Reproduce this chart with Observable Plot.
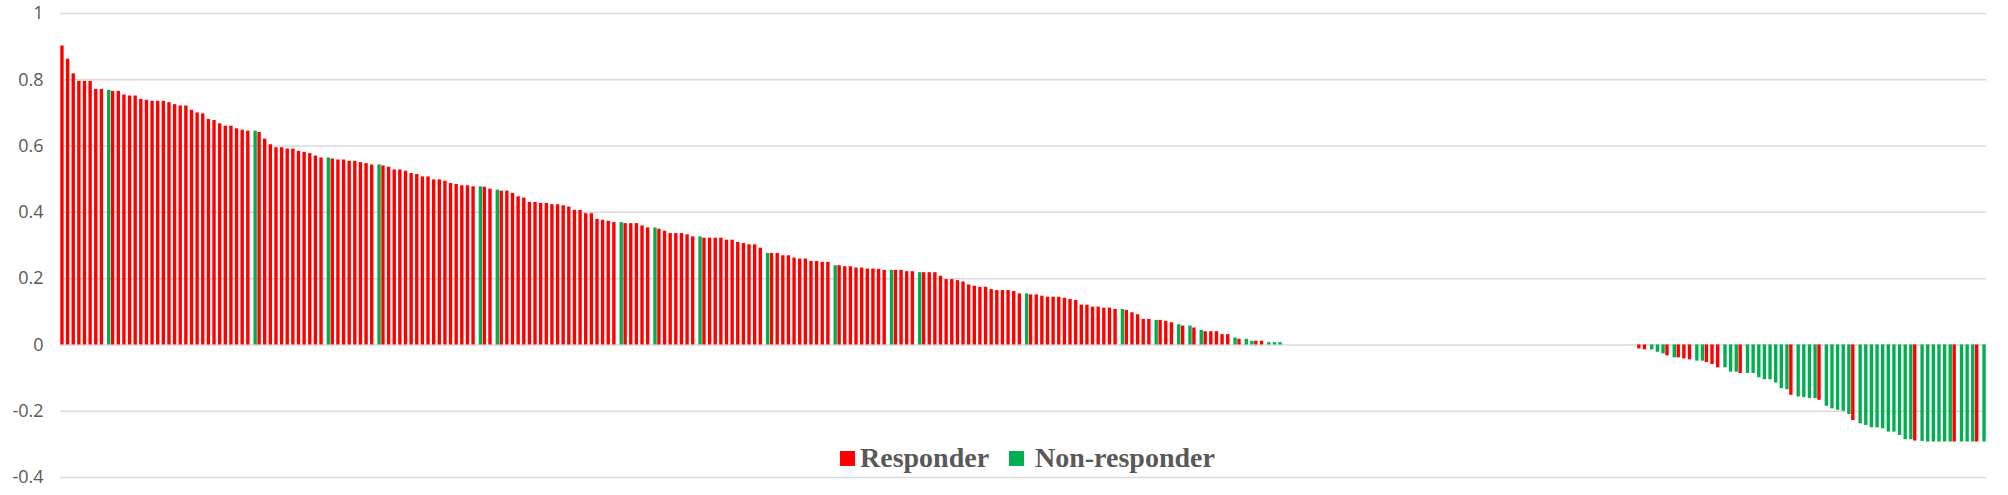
<!DOCTYPE html>
<html>
<head>
<meta charset="utf-8">
<script src="https://cdn.jsdelivr.net/npm/d3@7"></script>
<script src="https://cdn.jsdelivr.net/npm/@observablehq/plot@0.6"></script>
<style>
  html, body { margin: 0; padding: 0; background: #ffffff; }
  #wrap { position: relative; width: 2008px; height: 495px; overflow: hidden; }
  #legend { position: absolute; left: 840px; top: 443px; height: 30px; width: 420px;
            font-family: "Liberation Serif", "Times New Roman", serif; font-weight: bold;
            font-size: 28px; color: #595959; }
  #legend .sw { position: absolute; top: 8px; width: 15px; height: 15px; }
  #legend .lb { position: absolute; top: 0; line-height: 30px; white-space: nowrap; }
</style>
</head>
<body>
<div id="wrap"></div>
<script>
// ---- data ----
// patients with a positive value, sorted descending (R = responder, G = non-responder)
const positiveValues = [
  0.902,0.862,0.818,0.795,0.795,0.795,0.771,0.771,0.768,0.765,
  0.765,0.754,0.751,0.751,0.741,0.738,0.735,0.735,0.735,0.731,
  0.725,0.721,0.721,0.708,0.700,0.697,0.680,0.677,0.667,0.660,
  0.660,0.652,0.648,0.645,0.645,0.641,0.621,0.604,0.595,0.595,
  0.591,0.591,0.584,0.581,0.577,0.570,0.564,0.564,0.561,0.558,
  0.558,0.554,0.554,0.550,0.547,0.543,0.543,0.540,0.536,0.528,
  0.528,0.524,0.517,0.514,0.507,0.507,0.498,0.498,0.494,0.487,
  0.484,0.480,0.480,0.477,0.477,0.476,0.470,0.467,0.464,0.464,
  0.457,0.447,0.443,0.430,0.430,0.427,0.427,0.423,0.423,0.420,
  0.416,0.406,0.406,0.396,0.396,0.379,0.376,0.373,0.369,0.369,
  0.366,0.366,0.366,0.359,0.353,0.353,0.349,0.343,0.336,0.336,
  0.336,0.332,0.326,0.326,0.322,0.322,0.322,0.322,0.316,0.316,
  0.309,0.306,0.302,0.302,0.292,0.276,0.276,0.276,0.269,0.269,
  0.262,0.259,0.259,0.252,0.252,0.249,0.249,0.239,0.239,0.236,
  0.236,0.232,0.232,0.229,0.229,0.228,0.225,0.225,0.225,0.225,
  0.221,0.221,0.218,0.218,0.218,0.218,0.207,0.197,0.197,0.194,
  0.190,0.181,0.177,0.174,0.174,0.167,0.164,0.164,0.164,0.161,
  0.154,0.154,0.151,0.151,0.147,0.144,0.144,0.144,0.141,0.137,
  0.134,0.120,0.120,0.114,0.114,0.111,0.111,0.107,0.107,0.104,
  0.097,0.091,0.077,0.077,0.074,0.074,0.071,0.067,0.061,0.057,
  0.057,0.051,0.044,0.040,0.040,0.040,0.031,0.031,0.021,0.017,
  0.017,0.011,0.011,0.011,0.007,0.007,0.007
];
const positiveGroups = [
  "RRRRRRRRGR","RRRRRRRRRR","RRRRRRRRRR","RRRRGRRRRR","RRRRRRRGRR",
  "RRRRRRGRRR","RRRRRRRRRR","RRRRGRRGRR","RRRRRRRRRR","RRRRRRRRRG",
  "RRRRRGRRRR","RRRGRRRRRR","RRRRRGRRRR","RRRRRRRGRR","RRRRRRRGRR",
  "RRGRRRRRRR","RRRRRRRRRR","RGRRRRRRRR","RRRRRRRRGR","RRRRGRRRGR",
  "GRGRRRRRGR","GGRRGGG"
];
// patients with no change
const zeroValues = [
  0,0,0,0,0,0,0,0,0,0, 0,0,0,0,0,0,0,0,0,0, 0,0,0,0,0,0,0,0,0,0,
  0,0,0,0,0,0,0,0,0,0, 0,0,0,0,0,0,0,0,0,0, 0,0,0,0,0,0,0,0,0,0,
  0,0,0
];
// patients with a negative value
const negativeValues = [
  -0.012,-0.015,-0.015,-0.022,-0.027,-0.033,-0.039,-0.039,-0.042,-0.045,
  -0.049,-0.049,-0.053,-0.059,-0.069,-0.069,-0.082,-0.082,-0.086,-0.086,
  -0.086,-0.099,-0.105,-0.105,-0.115,-0.132,-0.135,-0.152,-0.157,-0.159,
  -0.162,-0.162,-0.167,-0.185,-0.193,-0.197,-0.200,-0.210,-0.228,-0.238,
  -0.243,-0.250,-0.250,-0.253,-0.263,-0.263,-0.273,-0.286,-0.286,-0.290,
  -0.291,-0.293,-0.293,-0.293,-0.293,-0.293,-0.293,-0.293,-0.293,-0.293,-0.293,-0.293
];
const negativeGroups = [
  "RRGGGRGRRR","GGRRRGGGRG","GGGGGGGRGG","GGRGGGGGRG","GGGGGGGGGR","GGGGGGRGGGRG"
];
const seriesNames = {R: "Responder", G: "Non-responder"};
const seriesColors = {R: "#FF0000", G: "#00B050"};
const yTicks = [-0.4, -0.2, 0, 0.2, 0.4, 0.6, 0.8, 1];
const yTickLabels = ["-0.4", "-0.2", "0", "0.2", "0.4", "0.6", "0.8", "1"];

// ---- build table ----
const rows = [];
let id = 1;
const pg = positiveGroups.join("");
positiveValues.forEach((v, i) => rows.push({id: id++, value: v, group: pg[i]}));
zeroValues.forEach(v => rows.push({id: id++, value: v, group: null}));
const ng = negativeGroups.join("");
negativeValues.forEach((v, i) => rows.push({id: id++, value: v, group: ng[i]}));
const ids = rows.map(d => d.id);
const red = rows.filter(d => d.group === "R");
const green = rows.filter(d => d.group === "G");

const chart = Plot.plot({
  width: 2008,
  height: 495,
  marginTop: 13,
  marginBottom: 18,
  marginLeft: 60,
  marginRight: 22,
  style: {fontFamily: "'Open Sans', sans-serif", fontSize: "18px", color: "#595959", background: "#ffffff"},
  x: {type: "band", domain: ids, paddingInner: 0.4, paddingOuter: 0.2, round: false, axis: null},
  y: {domain: [-0.4, 1], ticks: yTicks, tickSize: 0, tickPadding: 17, label: null,
      tickFormat: d => yTickLabels[yTicks.indexOf(d)]},
  marks: [
    Plot.ruleY(yTicks, {stroke: "#D9D9D9", strokeWidth: 1.5}),
    Plot.barY(red, {x: "id", y: "value", fill: seriesColors.R, dx: -0.85}),
    Plot.barY(green, {x: "id", y: "value", fill: seriesColors.G, dx: 0.85})
  ]
});
const wrap = document.getElementById("wrap");
wrap.appendChild(chart);

// legend (overlaid inside the plot area, as in the reference)
const legend = document.createElement("div");
legend.id = "legend";
legend.innerHTML =
  `<div class="sw" style="left:0;background:${seriesColors.R}"></div>` +
  `<div class="lb" style="left:20px">${seriesNames.R}</div>` +
  `<div class="sw" style="left:169px;background:${seriesColors.G}"></div>` +
  `<div class="lb" style="left:195px">${seriesNames.G}</div>`;
wrap.appendChild(legend);
</script>
</body>
</html>
